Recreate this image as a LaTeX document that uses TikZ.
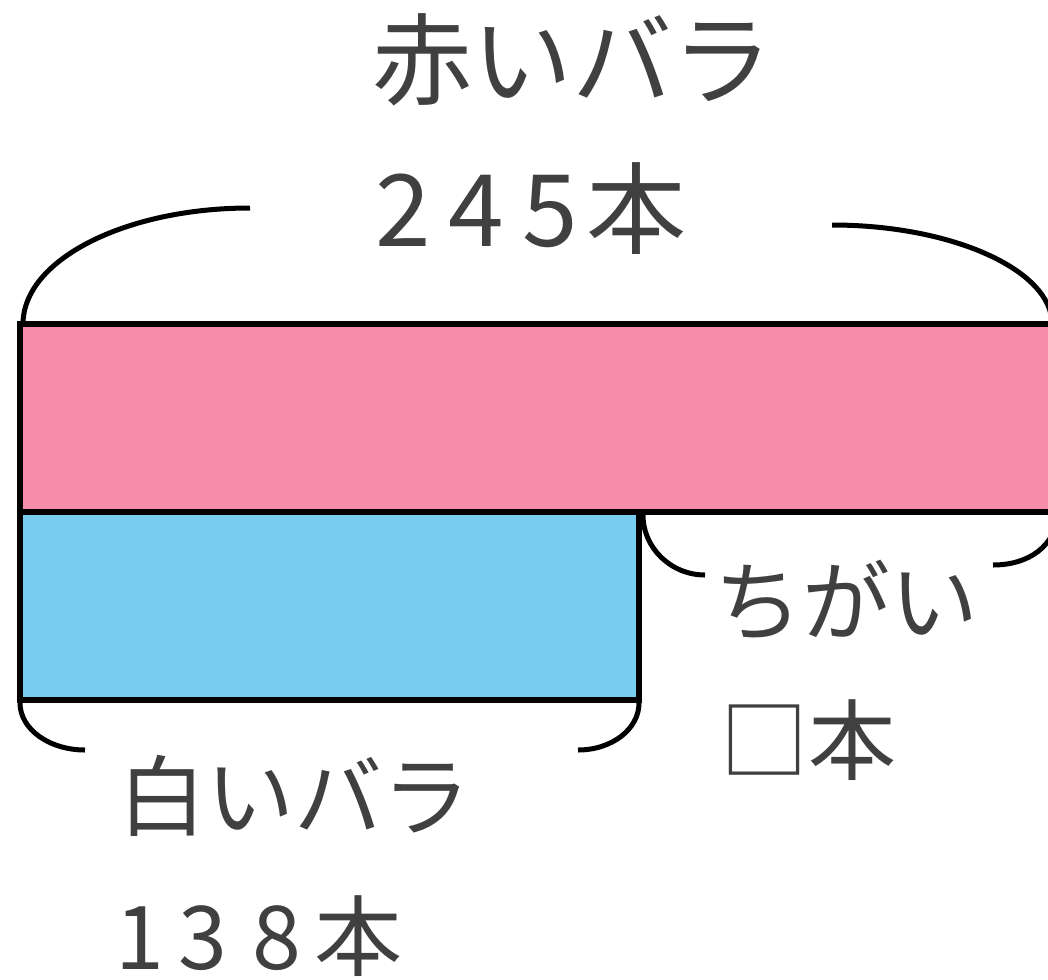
\documentclass[tikz,border=0pt]{standalone}
\usepackage{fontspec}
\setmainfont{Noto Sans CJK JP}
\definecolor{rosepink}{HTML}{F78CA8}
\definecolor{roseblue}{HTML}{77CDEF}
\definecolor{txtgray}{HTML}{404040}
\newcommand{\dA}[1]{\makebox[73.5pt][c]{#1}}
\newcommand{\dB}[1]{\makebox[74pt][c]{#1}}
\begin{document}
\begin{tikzpicture}[x=1pt,y=-1pt,
  barbox/.style={draw=black,line width=6pt},
  bracepart/.style={draw=black,line width=5pt},
  bigtxt/.style={anchor=west,inner sep=0pt,text=txtgray,font=\fontsize{100}{110}\selectfont},
  midtxt/.style={anchor=west,inner sep=0pt,text=txtgray,font=\fontsize{88}{96}\selectfont}]
\useasboundingbox (0,0) rectangle (1048,979);
\begin{scope}
\clip (0,0) rectangle (1048,979);
% bars
\filldraw[barbox,fill=rosepink] (20,324) rectangle (1060,512);
\filldraw[barbox,fill=roseblue] (20,512) rectangle (639,700);
% top brace
\draw[bracepart] (23,324) .. controls (23,260) and (125,208) .. (250,208);
\draw[bracepart] (832,225) .. controls (952,225) and (1052,270) .. (1052,324);
% difference brace
\draw[bracepart] (643,515) .. controls (643,548) and (671,575) .. (705,575);
\draw[bracepart] (993,565) .. controls (1030,565) and (1055,545) .. (1058,515);
% bottom brace
\draw[bracepart] (20,703) .. controls (20,729) and (49,750) .. (85,750);
\draw[bracepart] (578,750) .. controls (612,750) and (639,729) .. (639,703);
\end{scope}
% labels
\node[bigtxt] (red) at (372,60) {赤いバラ};
\node[bigtxt] (redn) at (366,209) {\dA{2}\dA{4}\dA{5}本};
\node[midtxt] (diff) at (714,600) {ちがい};
\node[midtxt] (diffn) at (720,740) {□本};
\node[midtxt] (white) at (118,796) {白いバラ};
\node[midtxt] (whiten) at (92,936) {\dB{\hspace{22pt}1}\dB{3}\dB{8}本};
\end{tikzpicture}
\end{document}
